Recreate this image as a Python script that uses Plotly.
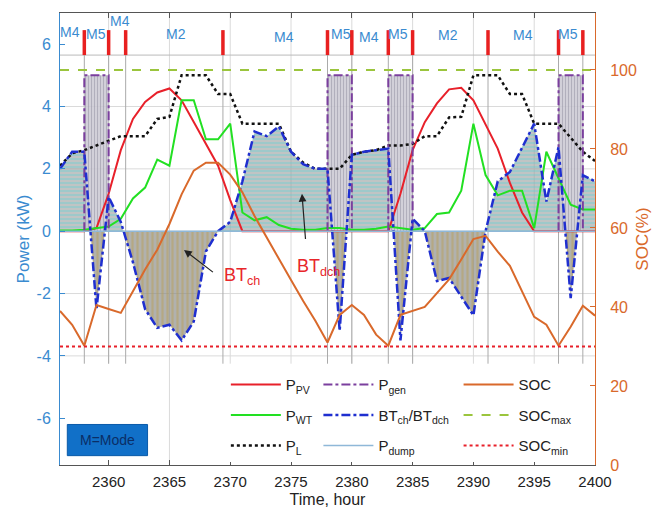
import plotly.graph_objects as go

# ---------------- data (hourly, t = 2356 ... 2400) ----------------
hours = list(range(2356, 2401))

p_pv = [0, 0, 0, 0.1, 1.2, 2.6, 3.6, 4.15, 4.45, 4.58,
        4.2, 3.5, 2.8, 2.1, 1.0, 0, 0, 0, 0, 0,
        0, 0, 0, 0, 0, 0, 0, 0, 1.2, 2.6,
        3.5, 4.1, 4.55, 4.6, 4.2, 3.45, 2.65, 1.55, 0.6, 0,
        0, 0, 0, 0, 0]

p_wt = [0.02, 0.02, 0.05, 0.1, 0.15, 0.4, 1.05, 1.4, 2.3, 2.1,
        4.2, 4.2, 2.95, 2.95, 3.45, 0.6, 0.35, 0.45, 0.2, 0.08,
        0.05, 0.05, 0.1, 0.1, 0.05, 0.05, 0.08, 0.15, 0.1, 0.05,
        0.1, 0.55, 0.6, 1.3, 3.45, 1.8, 1.15, 1.3, 1.3, 0.1,
        2.55, 1.7, 0.85, 0.7, 0.7]

p_load = [2.1, 2.5, 2.6, 2.75, 2.9, 3.05, 3.05, 3.05, 3.6, 3.67,
          5.0, 5.0, 5.0, 4.4, 4.4, 3.45, 3.45, 3.45, 3.45, 2.55,
          2.2, 2.0, 2.0, 2.0, 2.45, 2.55, 2.6, 2.75, 2.75, 2.8,
          3.05, 3.05, 3.65, 3.67, 5.0, 5.0, 5.0, 4.4, 4.4, 3.45,
          3.45, 3.45, 3.0, 2.55, 2.25]

# battery power: > 0 discharging (BT_dch), < 0 charging (BT_ch)
p_bt = [2.0, 2.55, 2.55, -2.5, 1.1, 0.3, -1.0, -2.5, -3.1, -3.0,
        -3.5, -2.9, -0.65, 0.0, 0.3, 1.6, 3.2, 3.05, 3.36, 2.55,
        2.15, 2.0, 2.0, -3.2, 2.45, 2.55, 2.6, 2.65, -3.5, 0.4,
        0.0, -1.6, -1.5, -2.1, -2.7, 0.0, 1.6, 1.9, 2.7, 3.45,
        0.95, 2.7, -2.15, 1.8, 1.6]

p_dump = [0, 0, 0, 0, 0, 0, 0, 0, 0, 0,
          0, 0, 0, 0, 0, 0, 0, 0, 0, 0,
          0, 0, 0, 0, 0, 0, 0, 0, 0, 0,
          0, 0, 0, 0, 0, 0, 0, 0, 0, 0,
          0, 0, 0, 0, 0]

soc = [39, 35.5, 30.2, 40.5, 39.5, 38.5, 44, 49.5, 54.5, 61,
       68.5, 74.5, 76.5, 76.5, 73.5, 69, 63, 57.5, 52, 46.8,
       41.5, 36.5, 31, 38, 40.5, 38, 33, 30.2, 38, 39,
       40, 43.5, 47, 52, 57.2, 58, 54, 50.4, 44, 37.5,
       35.5, 30.2, 35, 40.3, 37.8]

soc_max = 100
soc_min = 30

# diesel generator running periods (start, end) and its output (kW)
gen_periods = [(2358, 2360), (2378, 2380), (2383, 2385), (2397, 2399)]
gen_power = 5.0

# operating-mode switching instants and mode names
mode_switch = [2358, 2360, 2361.4, 2369.4, 2378, 2380, 2383, 2385, 2391.2, 2397, 2399]
mode_names = ["M4", "M5", "M4", "M2", "M4", "M5", "M4", "M5", "M2", "M4", "M5"]
mode_label_x = [2356.8, 2359.0, 2360.9, 2365.5, 2374.4, 2379.1, 2381.4, 2383.8, 2387.9, 2394.1, 2397.8]
mode_label_y = [6.4, 6.34, 6.75, 6.34, 6.24, 6.34, 6.24, 6.34, 6.3, 6.28, 6.34]

x_ticks = [2360, 2365, 2370, 2375, 2380, 2385, 2390, 2395, 2400]
y_ticks = [-6, -4, -2, 0, 2, 4, 6]
y2_ticks = [0, 20, 40, 60, 80, 100]

# ---------------- styling ----------------
BLUE_AX = "#3A8BD0"
ORANGE = "#D9692B"
FONT = "Liberation Sans, Arial, sans-serif"


def split_sign(xs, ys):
    """Split a polyline into its positive and negative parts, adding the zero crossings."""
    px, py, nx, ny = [], [], [], []
    for i, (xv, yv) in enumerate(zip(xs, ys)):
        if i > 0:
            y0 = ys[i - 1]
            if y0 * yv < 0:
                xc = xs[i - 1] + (xv - xs[i - 1]) * y0 / (y0 - yv)
                px.append(xc); py.append(0.0)
                nx.append(xc); ny.append(0.0)
        px.append(xv); py.append(max(yv, 0.0))
        nx.append(xv); ny.append(min(yv, 0.0))
    return px, py, nx, ny


pos_x, pos_y, neg_x, neg_y = split_sign(hours, p_bt)

fig = go.Figure()

# shaded battery discharge / charge areas
fig.add_trace(go.Scatter(
    x=pos_x, y=pos_y, mode="lines", line=dict(width=0), fill="tozeroy",
    fillpattern=dict(shape="-", fgcolor="rgba(95,210,215,0.9)",
                     bgcolor="rgba(150,156,156,0.6)", size=4, solidity=0.4),
    showlegend=False, hoverinfo="skip"))
fig.add_trace(go.Scatter(
    x=neg_x, y=neg_y, mode="lines", line=dict(width=0), fill="tozeroy",
    fillpattern=dict(shape="|", fgcolor="rgba(185,158,80,0.9)",
                     bgcolor="rgba(135,135,130,0.65)", size=5, solidity=0.45),
    showlegend=False, hoverinfo="skip"))

# generator blocks
gen_x, gen_y = [], []
for s, e in gen_periods:
    fig.add_trace(go.Scatter(
        x=[s, s, e, e], y=[0, gen_power, gen_power, 0], mode="lines",
        line=dict(width=0), fill="toself",
        fillpattern=dict(shape="|", fgcolor="rgba(125,120,140,0.8)",
                         bgcolor="rgba(205,203,213,0.85)", size=3, solidity=0.4),
        showlegend=False, hoverinfo="skip"))
    gen_x += [s, s, e, e, None]
    gen_y += [0, gen_power, gen_power, 0, None]

# power curves (left axis)
fig.add_trace(go.Scatter(x=hours, y=p_pv, mode="lines", name="P<sub>PV</sub>",
                         line=dict(color="#E8202A", width=2), legend="legend", legendgroup="a"))
fig.add_trace(go.Scatter(x=hours, y=p_wt, mode="lines", name="P<sub>WT</sub>",
                         line=dict(color="#22E022", width=2), legend="legend", legendgroup="b"))
fig.add_trace(go.Scatter(x=hours, y=p_load, mode="lines", name="P<sub>L</sub>",
                         line=dict(color="#111111", width=2.5, dash="dot"), legend="legend", legendgroup="c"))
fig.add_trace(go.Scatter(x=gen_x, y=gen_y, mode="lines", name="P<sub>gen</sub>",
                         line=dict(color="#7B3F9E", width=2, dash="dashdot"), legend="legend2", legendgroup="d"))
fig.add_trace(go.Scatter(x=hours, y=p_bt, mode="lines", name="BT<sub>ch</sub>/BT<sub>dch</sub>",
                         line=dict(color="#1F2FD0", width=2.5, dash="dashdot"), legend="legend2", legendgroup="e"))
fig.add_trace(go.Scatter(x=hours, y=p_dump, mode="lines", name="P<sub>dump</sub>",
                         line=dict(color="#8FB8D8", width=1.5), legend="legend2", legendgroup="f"))

# state of charge (right axis)
fig.add_trace(go.Scatter(x=hours, y=soc, mode="lines", name="SOC", yaxis="y2",
                         line=dict(color=ORANGE, width=2), legend="legend3", legendgroup="g"))
fig.add_trace(go.Scatter(x=[hours[0], hours[-1]], y=[soc_max, soc_max], mode="lines",
                         name="SOC<sub>max</sub>", yaxis="y2",
                         line=dict(color="#9BC53D", width=2, dash="dash"), legend="legend3", legendgroup="h"))
fig.add_trace(go.Scatter(x=[hours[0], hours[-1]], y=[soc_min, soc_min], mode="lines",
                         name="SOC<sub>min</sub>", yaxis="y2",
                         line=dict(color="#E8202A", width=2, dash="dot"), legend="legend3", legendgroup="i"))

shapes = []
# grid
for yv in [-4, -2, 0, 2, 4]:
    shapes.append(dict(type="line", xref="x", yref="y", x0=2356, x1=2400, y0=yv, y1=yv,
                       line=dict(color="#DADADA", width=1), layer="below"))
for xv in x_ticks[:-1]:
    shapes.append(dict(type="line", xref="x", yref="y", x0=xv, x1=xv,
                       y0=-7.5 if xv == 2365 else -4.25, y1=7.0,
                       line=dict(color="#DADADA", width=1), layer="below"))
# mode band separator and switching lines
shapes.append(dict(type="line", xref="x", yref="y", x0=2356, x1=2400, y0=5.65, y1=5.65,
                   line=dict(color="#BBBBBB", width=1), layer="below"))
for t in mode_switch:
    shapes.append(dict(type="line", xref="x", yref="y", x0=t, x1=t, y0=-4.25, y1=6.45,
                       line=dict(color="#AAAAAA", width=1), layer="below"))
    shapes.append(dict(type="line", xref="x", yref="y", x0=t, x1=t, y0=5.65, y1=6.45,
                       line=dict(color="#E82020", width=3.5), layer="above"))
# "M=Mode" key box
shapes.append(dict(type="rect", xref="x", yref="y", x0=2356.6, x1=2363.2, y0=-7.2, y1=-6.2,
                   fillcolor="#1170C8", line=dict(color="#0A5AA8", width=1), layer="above"))

annotations = []
for name, xv, yv in zip(mode_names, mode_label_x, mode_label_y):
    annotations.append(dict(x=xv, y=yv, xref="x", yref="y", text=name, showarrow=False,
                            font=dict(family=FONT, size=14, color=BLUE_AX)))
annotations.append(dict(x=2359.9, y=-6.7, xref="x", yref="y", text="M=Mode", showarrow=False,
                        font=dict(family=FONT, size=14, color="#0B2E66")))
# arrows pointing at the charge / discharge areas
annotations.append(dict(x=2375.9, y=1.2, ax=2376.2, ay=-0.3, xref="x", yref="y", axref="x", ayref="y",
                        text="", showarrow=True, arrowhead=2, arrowsize=1.3, arrowwidth=1.2,
                        arrowcolor="#222222"))
annotations.append(dict(x=2366.2, y=-0.6, ax=2368.7, ay=-1.35, xref="x", yref="y", axref="x", ayref="y",
                        text="", showarrow=True, arrowhead=2, arrowsize=1.3, arrowwidth=1.2,
                        arrowcolor="#222222"))
annotations.append(dict(x=2377.3, y=-1.15, xref="x", yref="y", text="BT<sub>dch</sub>", showarrow=False,
                        font=dict(family=FONT, size=18, color="#E8262A")))
annotations.append(dict(x=2371.0, y=-1.45, xref="x", yref="y", text="BT<sub>ch</sub>", showarrow=False,
                        font=dict(family=FONT, size=18, color="#E8262A")))

legend_common = dict(bgcolor="rgba(255,255,255,1)", borderwidth=0, xanchor="left", yanchor="top",
                     font=dict(family=FONT, size=15, color="#222222"), itemwidth=50,
                     tracegroupgap=8, orientation="v")

fig.update_layout(
    width=661, height=517,
    margin=dict(l=60, r=64, t=13, b=50),
    paper_bgcolor="white", plot_bgcolor="white",
    font=dict(family=FONT),
    shapes=shapes, annotations=annotations,
    legend=dict(x=0.31, y=0.214, **legend_common),
    legend2=dict(x=0.483, y=0.214, **legend_common),
    legend3=dict(x=0.745, y=0.214, **legend_common),
    xaxis=dict(range=[2356, 2400], tickvals=x_ticks, ticks="inside", ticklen=5,
               tickcolor="#555555", showline=True, linecolor="#555555", mirror="ticks",
               showgrid=False, zeroline=False, ticklabelstandoff=3,
               tickfont=dict(size=15, color="#222222"),
               title=dict(text="Time, hour", font=dict(size=16, color="#222222"), standoff=4)),
    yaxis=dict(range=[-7.5, 7.0], tickvals=y_ticks, ticktext=[str(v) for v in y_ticks],
               ticks="inside", ticklen=5, tickcolor=BLUE_AX, showline=True, linecolor=BLUE_AX,
               showgrid=False, zeroline=False, ticklabelstandoff=5,
               tickfont=dict(size=16, color=BLUE_AX),
               title=dict(text="Power (kW)", font=dict(size=17, color=BLUE_AX), standoff=2)),
    yaxis2=dict(range=[0, 114.4], tickvals=y2_ticks, overlaying="y", side="right",
                ticks="inside", ticklen=5, tickcolor=ORANGE, showline=True, linecolor=ORANGE,
                showgrid=False, zeroline=False, ticklabelstandoff=11,
                tickfont=dict(size=16, color=ORANGE),
                title=dict(text="SOC(%)", font=dict(size=17, color=ORANGE), standoff=0)),
)

fig.write_html("out.html")
